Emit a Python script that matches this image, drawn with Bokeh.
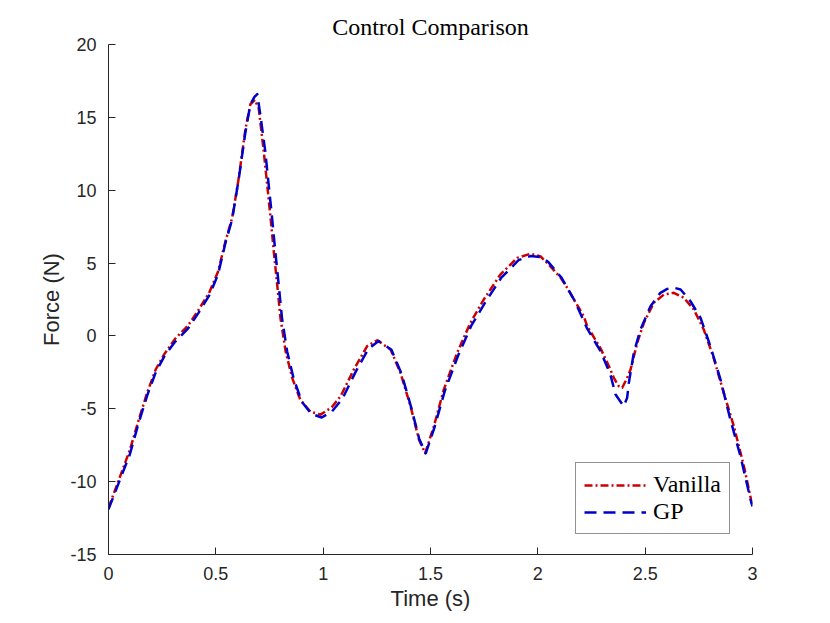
from bokeh.plotting import figure
from bokeh.models import Range1d, FixedTicker, Legend, LegendItem
from bokeh.embed import file_html
from bokeh.resources import INLINE

# ---- data ----
t_vanilla = [0.0, 0.05, 0.1, 0.14, 0.18, 0.22, 0.26, 0.31, 0.37, 0.42, 0.47, 0.51,
             0.545, 0.576, 0.607, 0.638, 0.661, 0.682, 0.70, 0.723, 0.739, 0.755,
             0.77, 0.786, 0.801, 0.825, 0.856, 0.894, 0.941, 0.988, 1.04, 1.081,
             1.143, 1.205, 1.252, 1.314, 1.36, 1.407, 1.446, 1.475, 1.516, 1.562,
             1.624, 1.686, 1.748, 1.826, 1.904, 1.966, 2.013, 2.044, 2.106, 2.137,
             2.168, 2.214, 2.23, 2.292, 2.338, 2.354, 2.377, 2.393, 2.416, 2.432,
             2.463, 2.494, 2.540, 2.587, 2.633, 2.680, 2.727, 2.773, 2.820, 2.866,
             2.913, 2.960, 3.0]
f_vanilla = [-11.8, -9.8, -7.8, -5.8, -3.9, -2.3, -1.25, -0.2, 0.7, 1.8, 3.0, 4.4,
             6.5, 8.1, 10.85, 14.2, 15.9, 16.2, 15.6, 12.7, 10.4, 8.1,
             5.8, 3.5, 1.24, -1.05, -2.9, -4.4, -5.2, -5.4, -4.9, -4.14,
             -2.3, -0.7, -0.3, -0.93, -2.53, -4.82, -7.1, -8.05, -6.19, -3.68,
             -1.16, 0.9, 2.5, 4.22, 5.36, 5.64, 5.45, 5.0, 4.0, 3.3,
             2.5, 1.35, 0.67, -0.85, -2.3, -2.88, -3.45, -3.56, -2.88, -2.3,
             -0.47, 0.9, 2.27, 2.84, 2.96, 2.62, 1.81, 0.44, -1.56, -3.9,
             -6.19, -8.94, -11.7]

t_gp = [0.0, 0.05, 0.1, 0.14, 0.18, 0.22, 0.26, 0.31, 0.37, 0.42, 0.47, 0.51,
        0.545, 0.576, 0.607, 0.638, 0.661, 0.68, 0.693, 0.708, 0.73, 0.746,
        0.762, 0.777, 0.793, 0.808, 0.832, 0.862, 0.9, 0.945, 0.993, 1.04,
        1.09, 1.15, 1.21, 1.258, 1.318, 1.365, 1.41, 1.448, 1.478, 1.518,
        1.566, 1.63, 1.69, 1.755, 1.83, 1.91, 1.966, 2.02, 2.05, 2.11,
        2.17, 2.23, 2.292, 2.338, 2.362, 2.4, 2.416, 2.424, 2.447, 2.478,
        2.525, 2.571, 2.603, 2.635, 2.665, 2.711, 2.758, 2.804, 2.851, 2.897,
        2.944, 2.991, 3.0]
f_gp = [-11.9, -10.0, -8.1, -6.0, -4.1, -2.5, -1.4, -0.4, 0.5, 1.6, 2.8, 4.2,
        6.4, 8.0, 10.8, 14.0, 15.9, 16.4, 16.6, 15.1, 12.7, 10.4,
        8.1, 5.8, 3.5, 1.24, -1.05, -2.9, -4.5, -5.35, -5.6, -5.2,
        -4.3, -2.5, -0.9, -0.35, -0.95, -2.6, -4.9, -7.1, -8.05, -6.3,
        -3.8, -1.3, 0.7, 2.3, 4.0, 5.2, 5.48, 5.4, 5.05, 4.0,
        2.45, 0.5, -1.05, -2.65, -4.02, -4.82, -4.25, -3.22, -1.16, 0.44,
        2.04, 2.96, 3.23, 3.3, 3.19, 2.38, 1.24, -0.71, -3.0, -5.74,
        -8.26, -11.23, -11.7]

x_ticks = [0, 0.5, 1, 1.5, 2, 2.5, 3]
x_tick_labels = ["0", "0.5", "1", "1.5", "2", "2.5", "3"]
y_ticks = [-15, -10, -5, 0, 5, 10, 15, 20]
y_tick_labels = ["-15", "-10", "-5", "0", "5", "10", "15", "20"]

series_names = ["Vanilla", "GP"]

# ---- figure ----
AX = "#262626"
p = figure(width=822, height=615, output_backend="svg", toolbar_location=None,
           x_range=Range1d(0, 3), y_range=Range1d(-15, 20),
           min_border_left=108, min_border_right=70, min_border_top=44,
           min_border_bottom=61, title="Control Comparison")
p.outline_line_color = None
p.grid.visible = False
p.background_fill_color = "white"
p.border_fill_color = "white"

p.title.align = "center"
p.title.text_font = "Liberation Serif"
p.title.text_font_style = "normal"
p.title.text_font_size = "24px"
p.title.text_color = "black"

for ax, ticks, labels in ((p.xaxis[0], x_ticks, x_tick_labels),
                          (p.yaxis[0], y_ticks, y_tick_labels)):
    ax.ticker = FixedTicker(ticks=ticks)
    ax.major_label_overrides = {tk: lb for tk, lb in zip(ticks, labels)}
    ax.minor_tick_line_color = None
    ax.major_tick_in = 7
    ax.major_tick_out = 0
    ax.axis_line_color = AX
    ax.major_tick_line_color = AX
    ax.axis_line_width = 1
    ax.major_label_text_font = "Liberation Sans"
    ax.major_label_text_font_size = "18px"
    ax.major_label_text_color = AX
    ax.axis_label_text_font = "Liberation Sans"
    ax.axis_label_text_font_size = "22px"
    ax.axis_label_text_font_style = "normal"
    ax.axis_label_text_color = AX

p.xaxis.axis_label = "Time (s)"
p.yaxis.axis_label = "Force (N)"
p.xaxis.major_label_standoff = 12
p.xaxis.axis_label_standoff = 3
p.yaxis.major_label_standoff = 12
p.yaxis.axis_label_standoff = 3

r1 = p.line(t_vanilla, f_vanilla, line_color="#CC0000", line_width=2.5,
            line_dash="8 3 2 3", line_join="round")
r2 = p.line(t_gp, f_gp, line_color="#0000CC", line_width=2.5,
            line_dash="12 7", line_join="round")

legend = Legend(items=[LegendItem(label=series_names[0], renderers=[r1]),
                       LegendItem(label=series_names[1], renderers=[r2])],
                location=(467, 20))
legend.margin = 0
legend.padding = 8
legend.spacing = 0
legend.glyph_width = 62
legend.glyph_height = 18
legend.label_height = 18
legend.label_standoff = 7
legend.label_text_font = "Liberation Serif"
legend.label_text_font_size = "24px"
legend.label_text_color = "black"
legend.border_line_color = AX
legend.border_line_width = 1
legend.background_fill_color = "white"
legend.background_fill_alpha = 1
p.add_layout(legend, "center")

open("out.html", "w").write(file_html(p, INLINE))
